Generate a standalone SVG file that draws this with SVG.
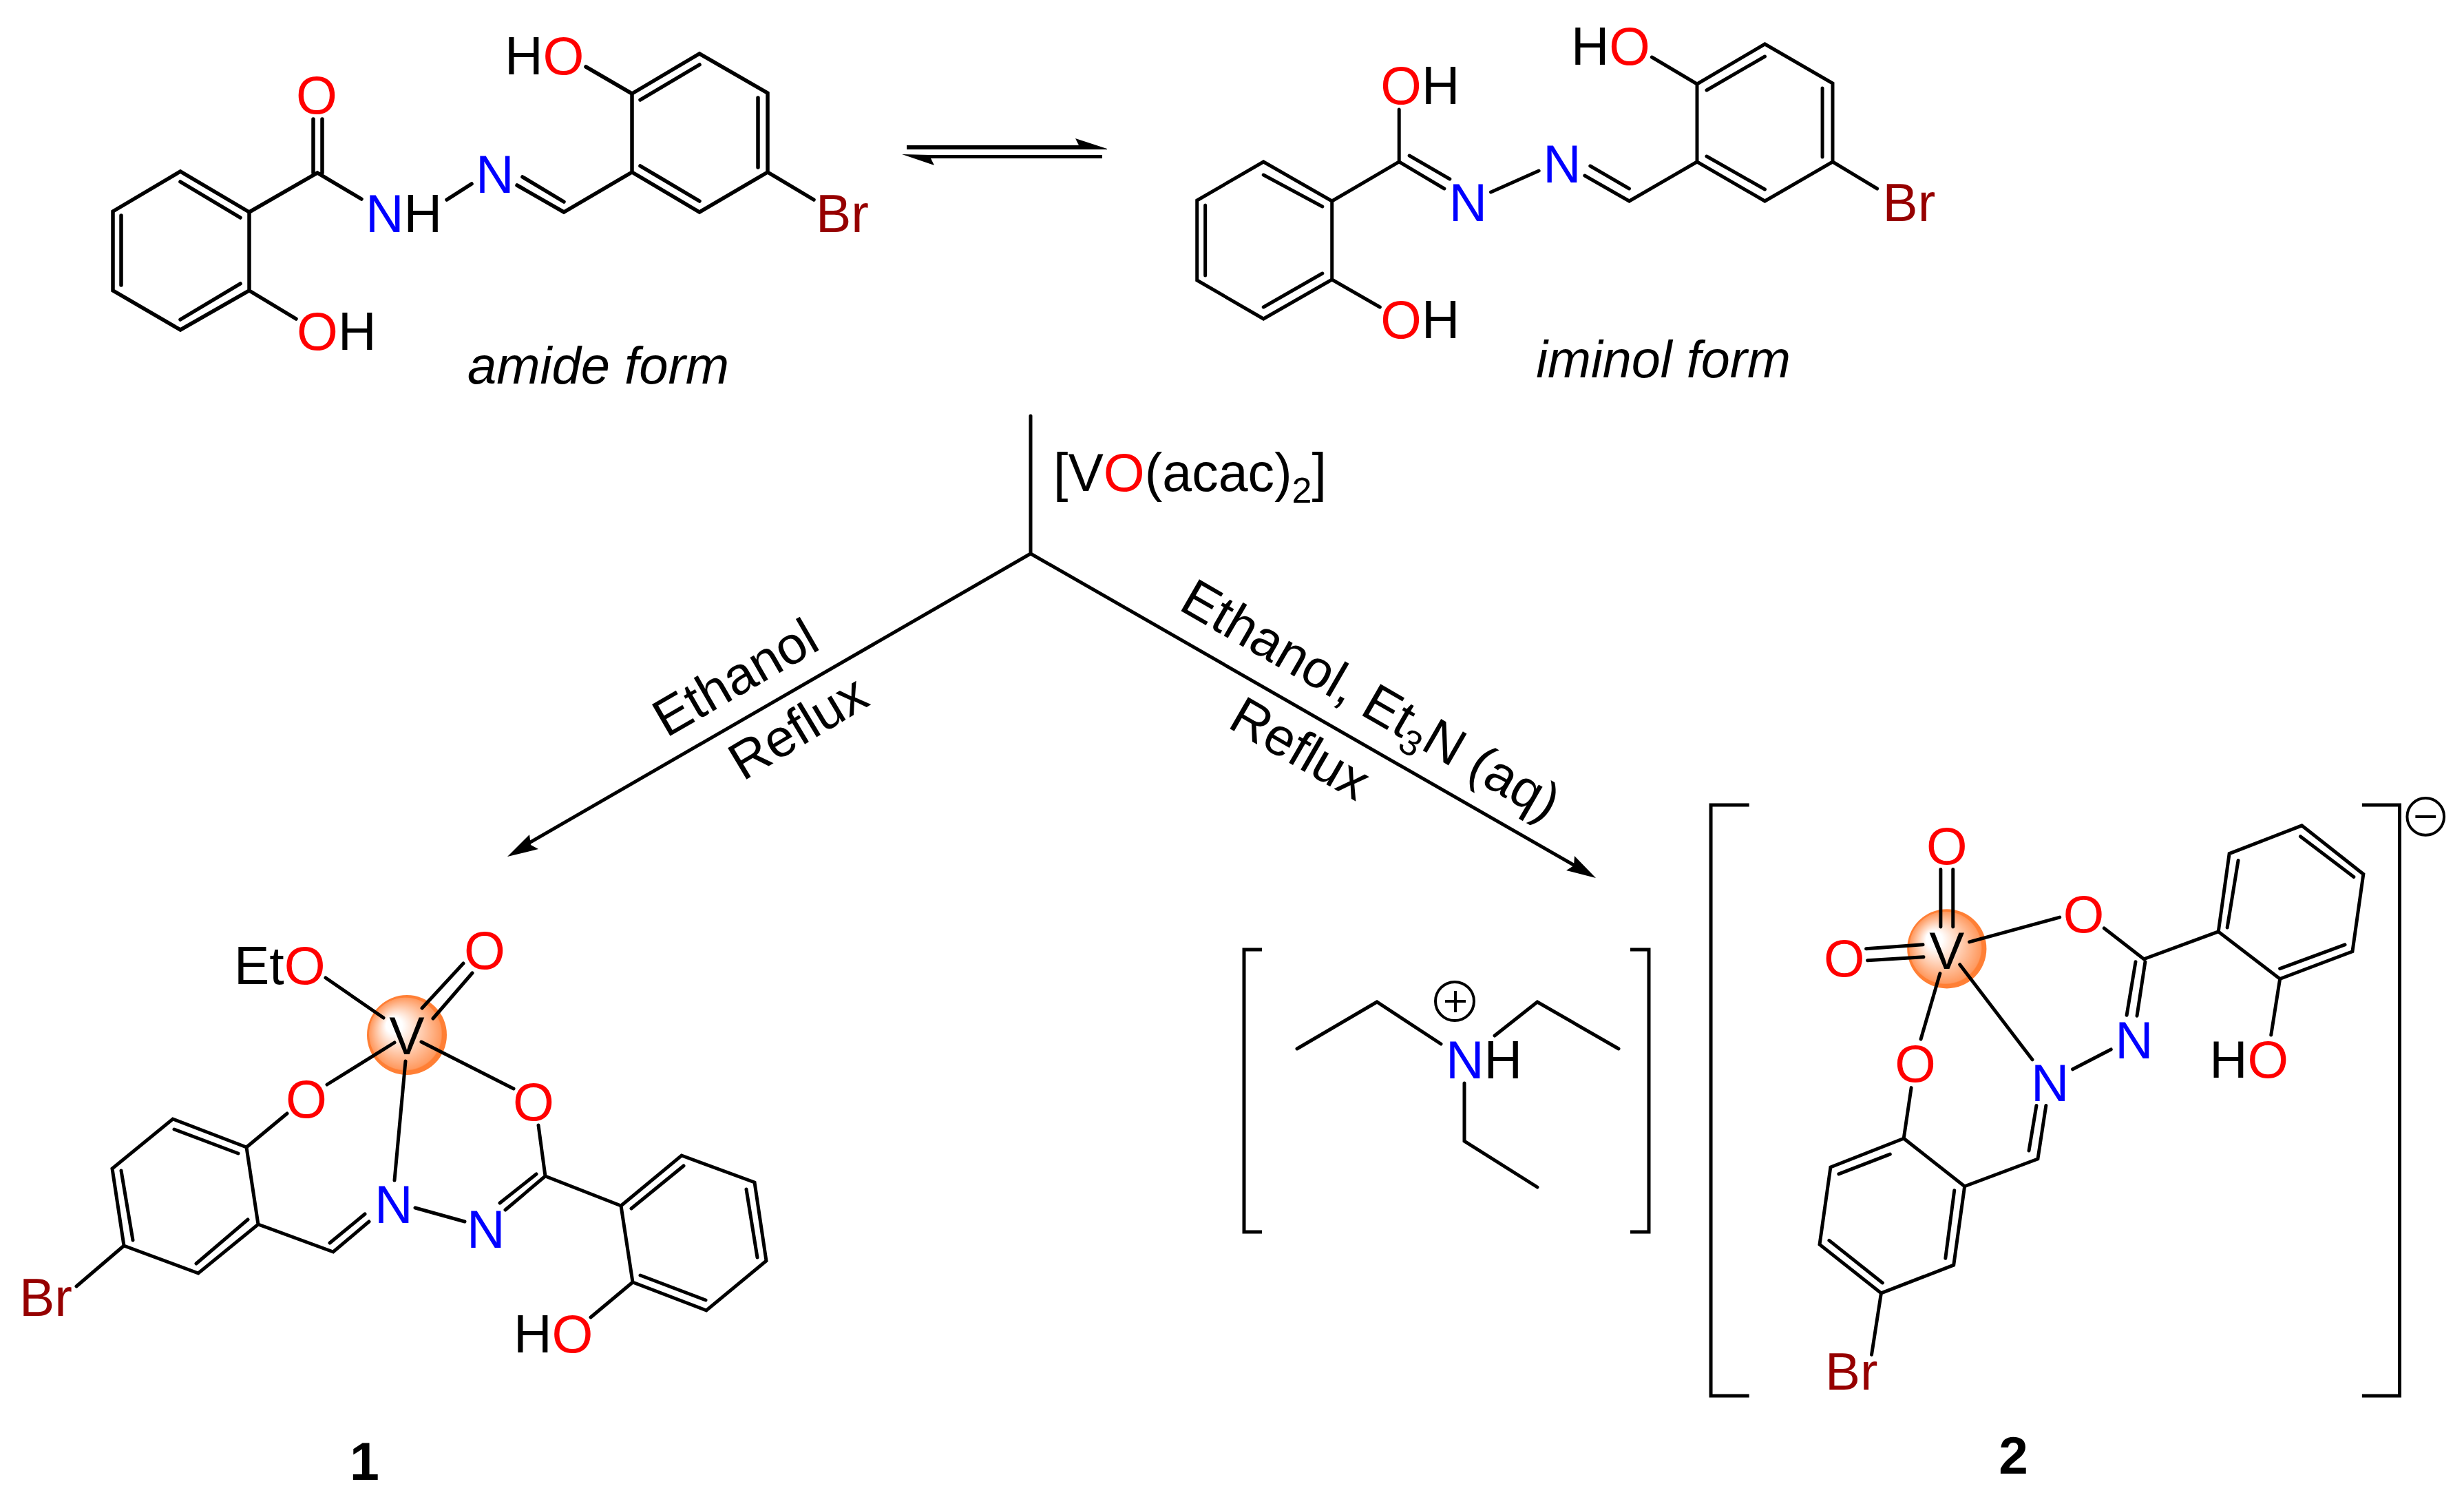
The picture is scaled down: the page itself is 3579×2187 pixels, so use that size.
<svg xmlns="http://www.w3.org/2000/svg" width="3579" height="2187" viewBox="0 0 3579 2187">
<style>
text{font-family:"Liberation Sans",Arial,sans-serif;font-size:77px;fill:#000}
.b{fill:none;stroke:#000;stroke-width:5;stroke-linecap:round;stroke-linejoin:miter}
.o{fill:#f00}.n{fill:#00f}.r{fill:#960000}
.i{font-style:italic;font-size:76px}.k{font-weight:bold}
.m{text-anchor:middle}
.s{font-size:52px}
</style>
<defs>
<radialGradient id="g" cx="50%" cy="50%" r="50%" fx="30%" fy="35%">
<stop offset="0" stop-color="#fff"/><stop offset=".2" stop-color="#fff"/><stop offset=".9" stop-color="#ff9a60"/><stop offset=".92" stop-color="#ff7f35"/><stop offset="1" stop-color="#ff7f35"/>
</radialGradient>
</defs>
<rect width="3579" height="2187" fill="#fff"/>
<g id="connectors">
<path class="b" d="M1497 604V804L760 1229M1497 804L2296 1262"/>
<path d="M737 1244L769 1212L771 1227L782 1233Z"/>
<path d="M2318 1275L2287 1243L2286 1257L2275 1264Z"/>
<path d="M1317 211H1567L1562 201L1608 216V217H1317Z"/>
<path d="M1601 225H1350L1310 224L1357 240L1352 230H1601Z"/>
</g>
<g id="amide" transform="translate(-3 -3)">
<path class="b" style="stroke-width:5.5" d="M365 311L265 252L167 310V425L265 482L365 425ZM265 267L352 319M179 316V417M265 467L352 415M365 311L464 254L528 292M458 176V254M471 176V254M433 466L365 425M652 293L688 270M754 272L822 311L921 253M762 260L822 296M921 253V139L1019 81L1118 138V253L1019 311ZM933 148L1019 97M1104 145V246M933 244L1019 295M921 139L854 100M1118 253L1185 293"/>
<text class="o m" x="463" y="168">O</text>
<text x="534" y="340"><tspan class="n">N</tspan>H</text>
<text class="n" x="694" y="283">N</text>
<text x="736" y="111">H<tspan class="o">O</tspan></text>
<text x="434" y="511"><tspan class="o">O</tspan>H</text>
<text class="r" x="1188" y="340">Br</text>
<text class="i" x="682" y="560">amide form</text>
</g>
<g id="iminol" transform="matrix(.9949 0 0 1 6.6 0)">
<path class="b" d="M1938 292L1838 235L1741 291V407L1838 463L1938 406ZM1838 254L1924 300M1753 298V400M1838 446L1924 397M1938 292L2036 235V159M2036 235L2102 274M2051 226L2110 260M1938 406L2008 446M2170 279L2240 248M2307 255L2372 292L2471 235M2315 241L2372 274M2471 235V122L2570 64L2669 121V235L2570 292ZM2485 131L2570 82M2654 128V228M2485 227L2570 275M2471 122L2405 83M2669 235L2734 274"/>
<text x="2009" y="151"><tspan class="o">O</tspan>H</text>
<text x="2009" y="491"><tspan class="o">O</tspan>H</text>
<text class="n" x="2109" y="321">N</text>
<text class="n" x="2246" y="265">N</text>
<text x="2287" y="94">H<tspan class="o">O</tspan></text>
<text class="r" x="2742" y="321">Br</text>
<text class="i" x="2236" y="548">iminol form</text>
</g>
<g id="conditions">
<text x="1530" y="713">[V<tspan class="o">O</tspan>(acac)<tspan class="s" dy="17">2</tspan><tspan dy="-17">]</tspan></text>
<text transform="translate(968 1072) rotate(-30)">Ethanol</text>
<text transform="translate(1079 1135) rotate(-31)">Reflux</text>
<text transform="translate(1710 884) rotate(30)">Ethanol, Et<tspan class="s" dy="17">3</tspan><tspan dy="-17">N (aq)</tspan></text>
<text transform="translate(1781 1055) rotate(30)">Reflux</text>
</g>
<g id="complex1" transform="translate(-2 -2)">
<circle cx="593" cy="1505" r="58" fill="url(#g)"/>
<path class="b" d="M475 1422L559 1480M615 1466L675 1401M631 1481L688 1415M477 1577L575 1516M614 1515L748 1583M591 1543L575 1716M605 1756L677 1776M784 1636L794 1710L736 1759M781 1707L728 1749M794 1710L904 1753M904 1753L992 1680L1098 1719L1115 1833L1028 1905L921 1864ZM919 1757L995 1695M1086 1729L1102 1828M932 1854L1027 1890M921 1864L860 1915M360 1668L253 1627L165 1699L182 1811L290 1851L377 1780ZM255 1642L348 1677M178 1702L195 1803M287 1837L362 1773M360 1668L419 1619M377 1780L486 1820L538 1776M481 1807L532 1765M182 1811L113 1870"/>
<text x="342" y="1431">Et<tspan class="o">O</tspan></text>
<text class="o m" x="706" y="1409">O</text>
<text class="m" x="593" y="1533">V</text>
<text class="o m" x="447" y="1625">O</text>
<text class="o m" x="777" y="1629">O</text>
<text class="n" x="546" y="1778">N</text>
<text class="n" x="680" y="1814">N</text>
<text x="748" y="1966">H<tspan class="o">O</tspan></text>
<text class="r" x="30" y="1913">Br</text>
<text class="k" x="510" y="2151">1</text>
</g>
<g id="cation" transform="translate(-2 0)">
<path class="b" d="M1835 1379H1809V1789H1835M2370 1379H2397V1789H2370" style="stroke-linecap:butt"/>
<path class="b" d="M1886 1523L2002 1455L2095 1516M2173 1504L2235 1455L2353 1523M2129 1573V1657L2235 1724"/>
<ellipse class="b" cx="2115" cy="1454" rx="28" ry="28" style="stroke-width:4"/>
<path class="b" d="M2101 1454H2131M2116 1439V1470" style="stroke-linecap:butt;stroke-width:4"/>
<text x="2102" y="1566"><tspan class="n">N</tspan>H</text>
</g>
<g id="complex2" transform="matrix(.9935 0 0 .9942 16.2 6.8)">
<path class="b" d="M2541 1169H2485V2032H2541M3437 1169H3492V2032H3437" style="stroke-linecap:butt"/>
<circle cx="3530" cy="1186" r="27" class="b" style="stroke-width:4"/>
<path class="b" d="M3515 1186H3545" style="stroke-linecap:butt;stroke-width:4"/>
<circle cx="2830" cy="1379" r="58" fill="url(#g)"/>
<path class="b" d="M2821 1263V1347M2839 1263V1347M2712 1379L2795 1373M2714 1396L2796 1391M2863 1369L2995 1333M3060 1349L3118 1394L3227 1354M3106 1398L3093 1476M3120 1398L3108 1477M3070 1526L3014 1555M2849 1402L2955 1541M2820 1415L2792 1511M2778 1582L2767 1656M2767 1656L2660 1698L2644 1811L2734 1882L2840 1841L2856 1726ZM2672 1708L2747 1679M2658 1805L2736 1867M2828 1831L2841 1732M2856 1726L2963 1686L2975 1608M2950 1674L2961 1608M2734 1882L2720 1972M3227 1354L3243 1240L3349 1199L3439 1270L3423 1383L3317 1423ZM3240 1348L3256 1250M3347 1215L3425 1274M3317 1408L3412 1373M3317 1423L3304 1505"/>
<text class="o m" x="2830" y="1255">O</text>
<text class="o m" x="2680" y="1419">O</text>
<text class="o m" x="3030" y="1355">O</text>
<text class="m" x="2830" y="1408">V</text>
<text class="n" x="3076" y="1539">N</text>
<text class="n" x="2953" y="1601">N</text>
<text class="o m" x="2784" y="1573">O</text>
<text x="3214" y="1567">H<tspan class="o">O</tspan></text>
<text class="r" x="2652" y="2023">Br</text>
<text class="k" x="2906" y="2146">2</text>
</g>
</svg>
